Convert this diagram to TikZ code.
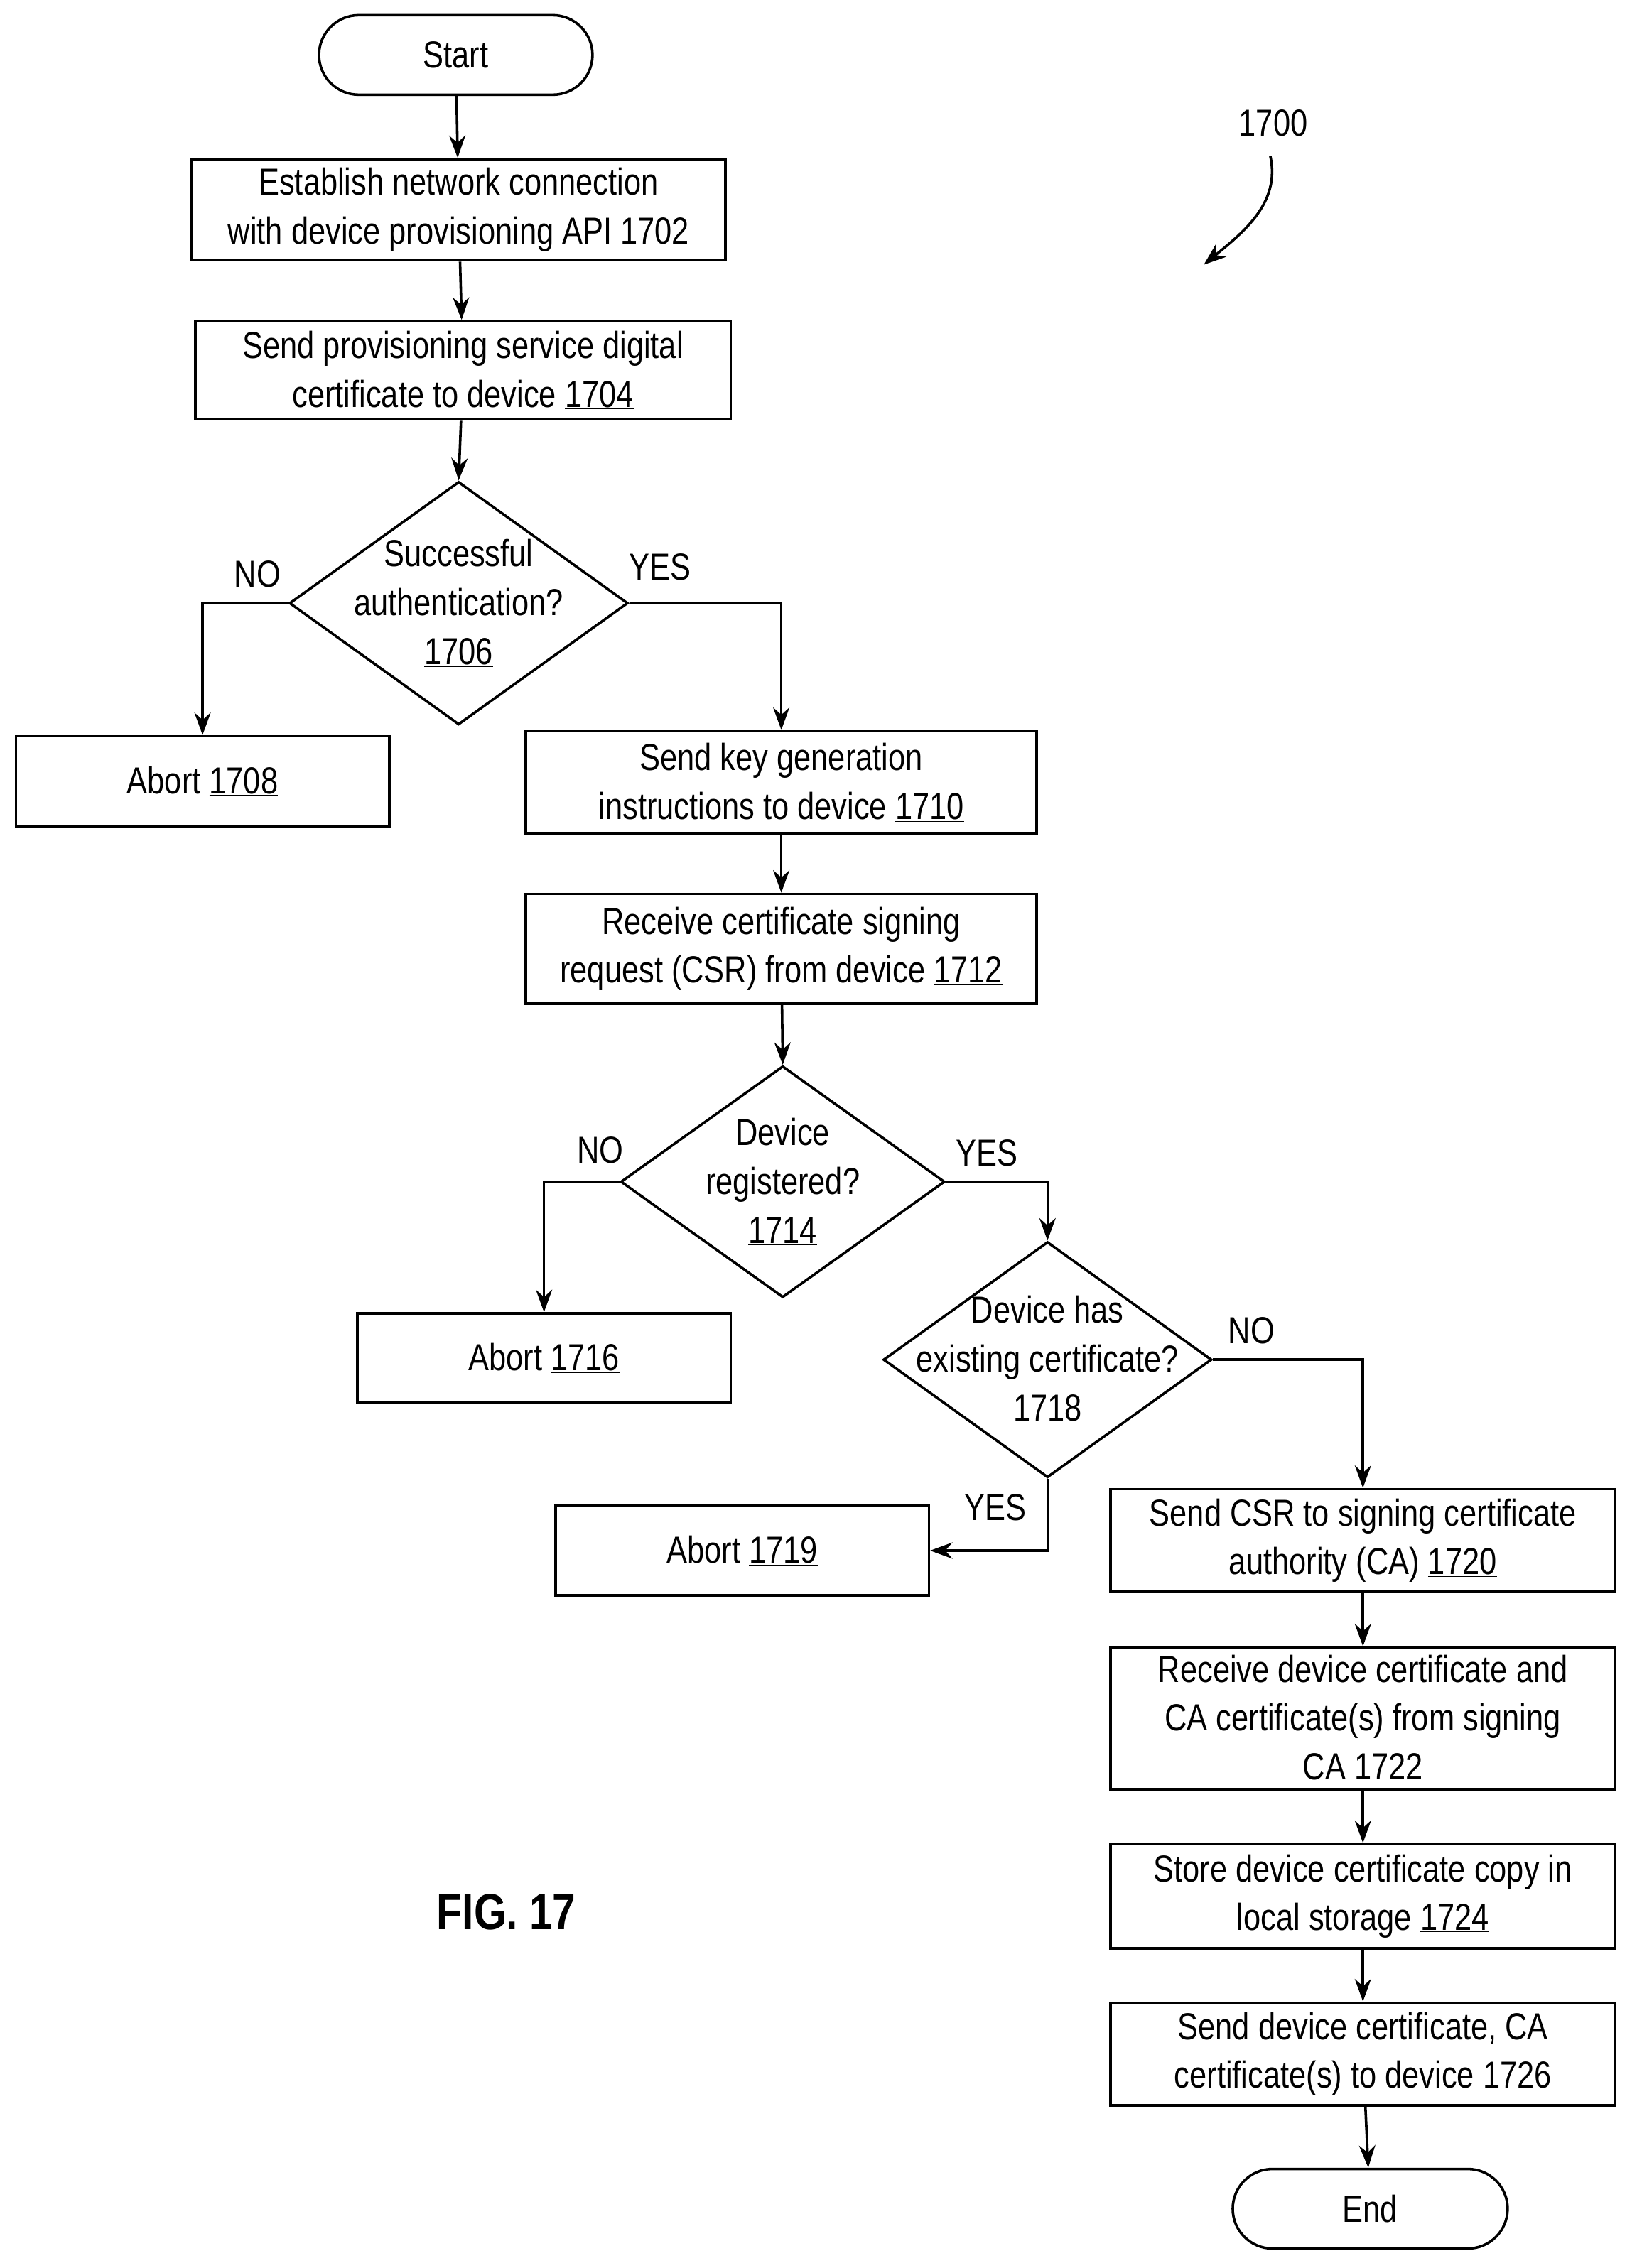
\documentclass[tikz,border=0pt]{standalone}
\usepackage{fontspec}
\setmainfont{Liberation Sans}[FakeStretch=0.82]
\usetikzlibrary{shapes.geometric,arrows.meta}
\begin{document}
\begin{tikzpicture}[x=0.05cm,y=-0.05cm,
  every node/.style={font=\fontsize{37}{48}\selectfont},
  box/.style={draw,line width=2.5pt,inner sep=0,align=center},
  dia/.style={draw,diamond,line width=2.5pt,inner sep=0},
  term/.style={draw,rounded rectangle,line width=2.5pt,inner sep=0},
  arr/.style={line width=2.5pt,-{Stealth[length=22pt,width=16pt]}},
  lbl/.style={inner sep=0}]
\useasboundingbox (0,0) rectangle (1131,1568);
\tikzset{bx/.style 2 args={box,minimum width=#1*0.05cm,minimum height=#2*0.05cm}}
\node[draw,line width=2.5pt,rounded corners=27.5*0.05cm,minimum width=189*0.05cm,minimum height=55*0.05cm] (start) at (315,38) {Start};
\node[bx={369}{70}] (b1702) at (317,145) {Establish network connection\\with device provisioning API \underline{1702}};
\node[bx={370}{68}] (b1704) at (320,256) {Send provisioning service digital\\certificate to device \underline{1704}};
\node[dia,minimum width=234*0.05cm,minimum height=168*0.05cm] (d1706) at (317,417) {};
\node[lbl,align=center] (t1706) at (317,417) {Successful\\authentication?\\\underline{1706}};
\node[bx={258}{62}] (b1708) at (140,540) {Abort \underline{1708}};
\node[bx={353}{71}] (b1710) at (540,541) {Send key generation\\instructions to device \underline{1710}};
\node[bx={353}{76}] (b1712) at (540,656) {Receive certificate signing\\request (CSR) from device \underline{1712}};
\node[dia,minimum width=224*0.05cm,minimum height=160*0.05cm] (d1714) at (541,817) {};
\node[lbl,align=center] (t1714) at (541,817) {Device\\registered?\\\underline{1714}};
\node[bx={258}{62}] (b1716) at (376,939) {Abort \underline{1716}};
\node[dia,minimum width=227*0.05cm,minimum height=163*0.05cm] (d1718) at (724,940) {};
\node[lbl,align=center] (t1718) at (724,940) {Device has\\existing certificate?\\\underline{1718}};
\node[bx={258}{62}] (b1719) at (513,1072) {Abort \underline{1719}};
\node[bx={349}{71}] (b1720) at (942,1065) {Send CSR to signing certificate\\authority (CA) \underline{1720}};
\node[bx={349}{98}] (b1722) at (942,1188) {Receive device certificate and\\CA certificate(s) from signing\\CA \underline{1722}};
\node[bx={349}{72}] (b1724) at (942,1311) {Store device certificate copy in\\local storage \underline{1724}};
\node[bx={349}{71}] (b1726) at (942,1420) {Send device certificate, CA\\certificate(s) to device \underline{1726}};
\node[draw,line width=2.5pt,rounded corners=27.5*0.05cm,minimum width=190*0.05cm,minimum height=55*0.05cm] (end) at (947,1527) {End};
\node[lbl] (n1700) at (880,85) {1700};
\node[lbl,font=\fontsize{50}{60}\selectfont\bfseries] (fig) at (350,1322) {FIG. 17};
\coordinate (c1700a) at (878,108);
\coordinate (c1700b) at (832,183);
\draw[arr] (c1700a) .. controls (885,140) and (860,160) .. (c1700b);
\draw[arr] (start) -- (b1702);
\draw[arr] (b1702) -- (b1704);
\draw[arr] (b1704) -- (d1706.north);
\draw[arr] (d1706.west) -| (b1708.north);
\draw[arr] (d1706.east) -| (b1710.north);
\draw[arr] (b1710) -- (b1712);
\draw[arr] (b1712) -- (d1714.north);
\draw[arr] (d1714.west) -| (b1716.north);
\draw[arr] (d1714.east) -| (d1718.north);
\draw[arr] (d1718.east) -| (b1720.north);
\draw[arr] (d1718.south) |- (b1719.east);
\draw[arr] (b1720) -- (b1722);
\draw[arr] (b1722) -- (b1724);
\draw[arr] (b1724) -- (b1726);
\draw[arr] (b1726) -- (end);
\node[lbl] (l1) at (178,397) {NO};
\node[lbl] (l2) at (456,392) {YES};
\node[lbl] (l3) at (415,795) {NO};
\node[lbl] (l4) at (682,797) {YES};
\node[lbl] (l5) at (865,920) {NO};
\node[lbl] (l6) at (688,1042) {YES};
\end{tikzpicture}
\end{document}
